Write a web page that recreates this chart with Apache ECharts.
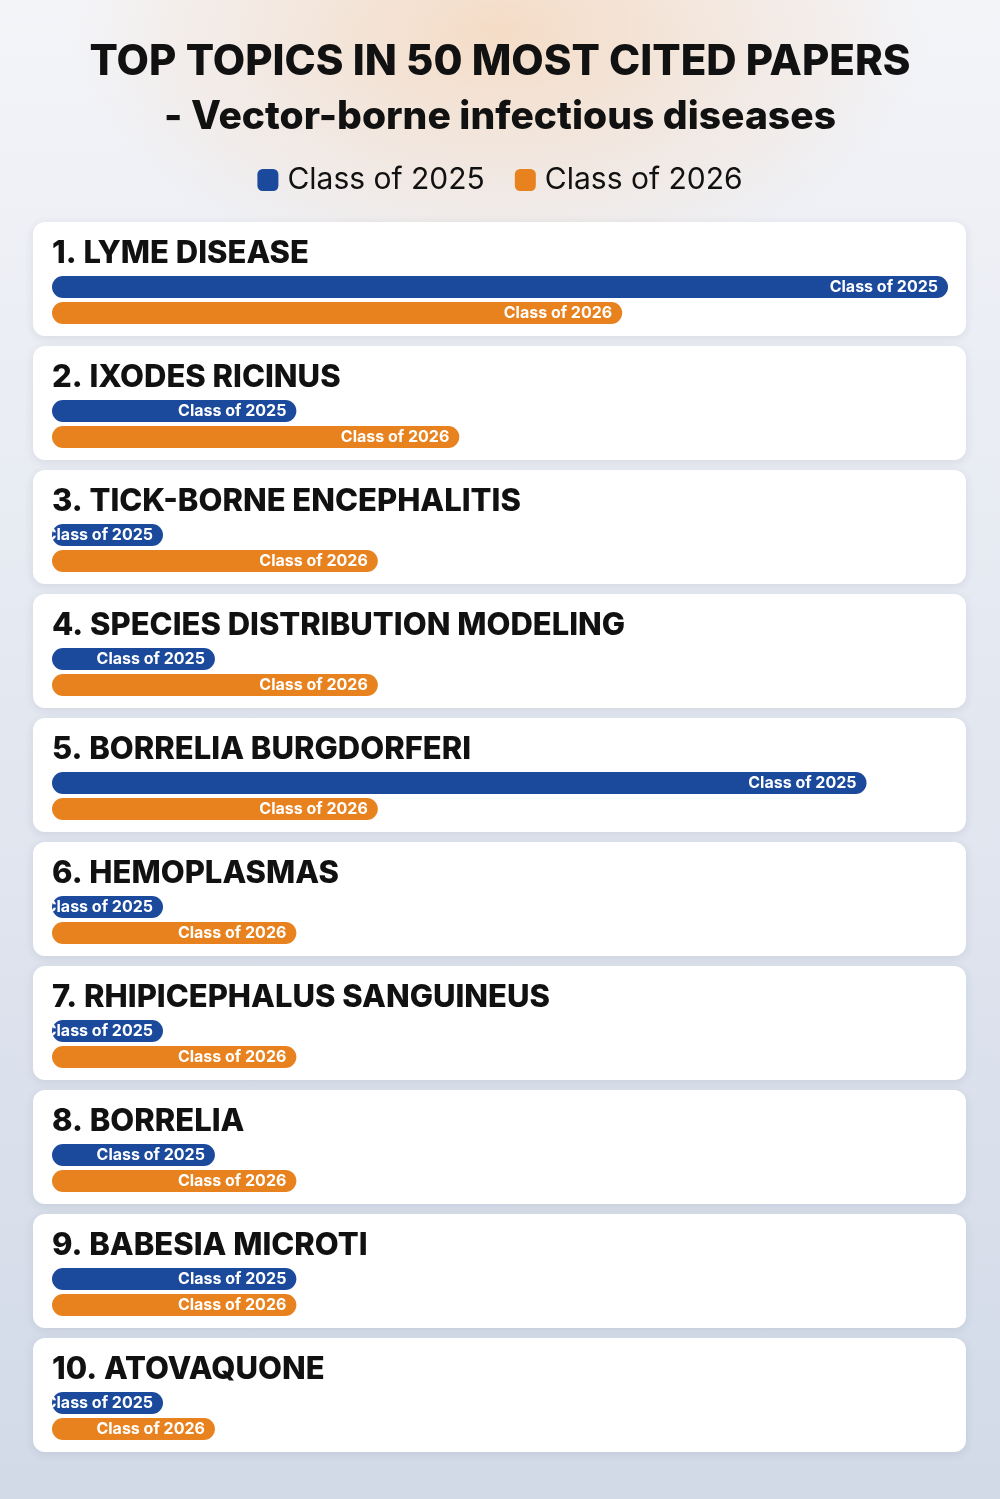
<!DOCTYPE html>
<html>
<head>
<meta charset="utf-8">
<script src="https://cdn.jsdelivr.net/npm/echarts@6/dist/echarts.min.js"></script>
<style>
  html, body { margin: 0; padding: 0; }
  body {
    background:
      radial-gradient(ellipse 430px 250px at 50% 30px, rgba(245, 214, 186, 0.8), rgba(245, 214, 186, 0) 100%),
      linear-gradient(#f3f4f8, #d2dae8);
  }
  #chart { width: 1000px; height: 1499px; }
</style>
</head>
<body>
<div id="chart"></div>
<script>
const topics = [
  'LYME DISEASE', 'IXODES RICINUS', 'TICK-BORNE ENCEPHALITIS', 'SPECIES DISTRIBUTION MODELING',
  'BORRELIA BURGDORFERI', 'HEMOPLASMAS', 'RHIPICEPHALUS SANGUINEUS', 'BORRELIA',
  'BABESIA MICROTI', 'ATOVAQUONE'
];
const classNames = ['Class of 2025', 'Class of 2026'];
const class2025 = [11, 3, 1, 2, 10, 1, 1, 2, 3, 1];
const class2026 = [7, 5, 4, 4, 4, 3, 3, 3, 3, 2];
const colors = ['#1b4a9c', '#e8821f'];
const xMax = 11;

const FONT = 'Inter';
const chart = echarts.init(document.getElementById('chart'), null, { renderer: 'canvas' });

const grids = [];
const xAxes = [];
const yAxes = [];
const series = [];
const graphics = [];

topics.forEach((topic, i) => {
  const cardTop = 222 + 124 * i;
  graphics.push({
    type: 'rect',
    shape: { x: 33, y: cardTop, width: 933, height: 114, r: 12 },
    style: { fill: '#ffffff', shadowBlur: 10, shadowColor: 'rgba(40,50,80,0.10)', shadowOffsetY: 2 },
    z: -10
  });
  graphics.push({
    type: 'text',
    x: 52,
    y: cardTop + 32,
    style: {
      text: (i + 1) + '. ' + topic,
      fontFamily: FONT,
      fontSize: 31,
      fontWeight: 800,
      fill: '#111111',
      verticalAlign: 'middle'
    },
    z: 10
  });
  grids.push({ left: 52, width: 896, top: cardTop + 52, height: 52 });
  xAxes.push({ gridIndex: i, type: 'value', min: 0, max: xMax, show: false });
  yAxes.push({ gridIndex: i, type: 'category', data: ['2025', '2026'], inverse: true, show: false });
  [class2025, class2026].forEach((vals, k) => {
    series.push({
      name: classNames[k],
      type: 'bar',
      xAxisIndex: i,
      yAxisIndex: i,
      stack: 'card' + i,
      barWidth: 22,
      barMinHeight: 111,
      data: k === 0 ? [vals[i], null] : [null, vals[i]],
      itemStyle: { color: colors[k], borderRadius: 11 },
      label: {
        show: true,
        position: 'insideRight',
        distance: 10,
        formatter: classNames[k],
        color: '#ffffff',
        fontFamily: FONT,
        fontWeight: 'bold',
        fontSize: 16
      },
      silent: true,
      animation: false
    });
  });
});

chart.setOption({
  backgroundColor: 'transparent',
  animation: false,
  title: [
    {
      text: 'TOP TOPICS IN 50 MOST CITED PAPERS',
      left: 'center',
      top: 36,
      textStyle: { fontFamily: FONT, fontSize: 42, fontWeight: 800, color: '#111111' }
    },
    {
      text: '- Vector-borne infectious diseases',
      left: 'center',
      top: 93,
      textStyle: { fontFamily: FONT, fontSize: 39, fontWeight: 800, color: '#111111' }
    }
  ],
  legend: {
    data: classNames,
    top: 160,
    left: 'center',
    icon: 'roundRect',
    itemWidth: 21,
    itemHeight: 22,
    itemGap: 30,
    selectedMode: false,
    textStyle: { fontFamily: FONT, fontSize: 30, color: '#111111', padding: [0, 0, 0, 4] }
  },
  grid: grids,
  xAxis: xAxes,
  yAxis: yAxes,
  series: series,
  graphic: graphics
});
</script>
</body>
</html>
